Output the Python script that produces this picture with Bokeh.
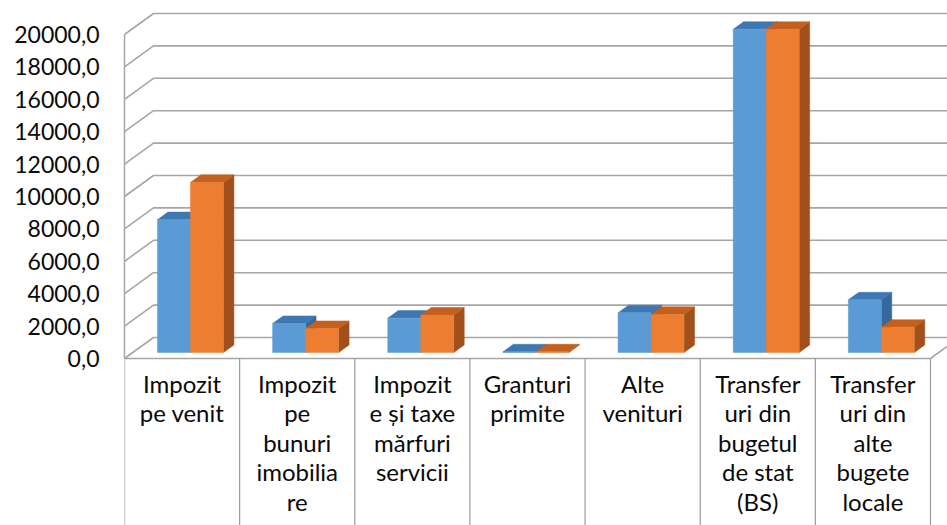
from bokeh.plotting import figure
from bokeh.models import Range1d, FixedTicker
from bokeh.core.properties import value
from bokeh.embed import file_html
from bokeh.resources import INLINE

# ---------------- data ----------------
categories = [
    ["Impozit", "pe venit"],
    ["Impozit", "pe", "bunuri", "imobilia", "re"],
    ["Impozit", "e și taxe", "mărfuri", "servicii"],
    ["Granturi", "primite"],
    ["Alte", "venituri"],
    ["Transfer", "uri din", "bugetul", "de stat", "(BS)"],
    ["Transfer", "uri din", "alte", "bugete", "locale"],
]
series_blue = [8200, 1790, 2120, 40, 2450, 19950, 3250]
series_orange = [10500, 1480, 2310, 40, 2350, 19950, 1560]
y_ticks = list(range(0, 20001, 2000))
y_tick_labels = [f"{t},0" for t in y_ticks]

# ---------------- layout (pixels) ----------------
W, H = 947, 525
FRONT_X = 124          # left wall front edge (px from figure left)
ZERO_Y = 358           # front-plane zero (px from figure top)
CAT_PX = 115.14        # width of one category (px)
PX_PER_UNIT = 0.0162   # vertical px per value unit

n = len(categories)
x_end = (W - FRONT_X) / CAT_PX
y_lo = -(H - ZERO_Y) / PX_PER_UNIT
y_hi = ZERO_Y / PX_PER_UNIT

DX = 29 / CAT_PX            # depth offset, x (category units)
DY = 21 / PX_PER_UNIT       # depth offset, y (value units)
BAR_F = 0.286               # bar front position in depth
BAR_D = 0.36                # bar depth
BAR_OFF = 24.7 / CAT_PX
BAR_W = 33.0 / CAT_PX

GRID = "#A6A6A6"

p = figure(width=W, height=H, x_range=Range1d(0, x_end), y_range=Range1d(y_lo, y_hi),
           output_backend="svg", toolbar_location=None,
           x_axis_location=None, y_axis_location="left",
           min_border_left=FRONT_X, min_border_right=0, min_border_top=0, min_border_bottom=0)
p.outline_line_color = None
p.xgrid.visible = False
p.ygrid.visible = False
p.background_fill_color = "white"
p.border_fill_color = "white"

ax = p.yaxis[0]
ax.ticker = FixedTicker(ticks=y_ticks)
ax.major_label_overrides = {t: lab for t, lab in zip(y_ticks, y_tick_labels)}
ax.bounds = (y_ticks[0], y_ticks[-1])
ax.axis_line_color = GRID
ax.axis_line_width = 1.5
ax.major_tick_line_color = None
ax.minor_tick_line_color = None
ax.major_tick_out = 0
ax.major_tick_in = 0
ax.major_label_standoff = 25
ax.major_label_text_font = "Lato"
ax.major_label_text_font_size = "23px"
ax.major_label_text_color = "#0A0A0A"

# ---------------- walls / gridlines ----------------
xs, ys = [], []
for t in y_ticks:
    xs.append([0, DX, x_end])
    ys.append([t, t + DY, t + DY])
# floor front edge and right diagonal
xs.append([0, n, n + DX])
ys.append([0, 0, DY])
p.multi_line(xs, ys, line_color=GRID, line_width=1.6)

# category boxes
bx, by = [], []
for i in range(n + 1):
    bx.append([i, i])
    by.append([0, y_lo])
p.multi_line(bx, by, line_color="#9A9A9A", line_width=1.2)

# ---------------- bars ----------------
def draw_series(vals, s, c_front, c_top, c_side):
    fl, fr, fb, ft = [], [], [], []
    top_x, top_y, side_x, side_y = [], [], [], []
    base = BAR_F * DY
    dx, dy = BAR_D * DX, BAR_D * DY
    for i, v in enumerate(vals):
        xl = i + BAR_OFF + s * BAR_W + BAR_F * DX
        xr = xl + BAR_W
        top = base + v
        fl.append(xl); fr.append(xr); fb.append(base); ft.append(top)
        top_x.append([xl, xr, xr + dx, xl + dx])
        top_y.append([top, top, top + dy, top + dy])
        side_x.append([xr, xr, xr + dx, xr + dx])
        side_y.append([base, top, top + dy, base + dy])
    p.patches(side_x, side_y, fill_color=c_side, line_color=c_side, line_width=0.5)
    p.patches(top_x, top_y, fill_color=c_top, line_color=c_top, line_width=0.5)
    p.quad(left=fl, right=fr, bottom=fb, top=ft, fill_color=c_front, line_color=c_front, line_width=0.5)

draw_series(series_blue, 0, "#5B9BD5", "#3E78B2", "#35689E")
draw_series(series_orange, 1, "#ED7D31", "#C55F1E", "#A14F1B")

# ---------------- category labels ----------------
label_top = -(368 - ZERO_Y) / PX_PER_UNIT
p.text(x=[i + 0.5 for i in range(n)], y=[label_top] * n,
       text=["\n".join(c) for c in categories],
       text_align="center", text_baseline="top",
       text_font=value("Lato"), text_font_size="24px",
       text_line_height=1.02, text_color="#0A0A0A")

open("out.html", "w").write(file_html(p, INLINE))
